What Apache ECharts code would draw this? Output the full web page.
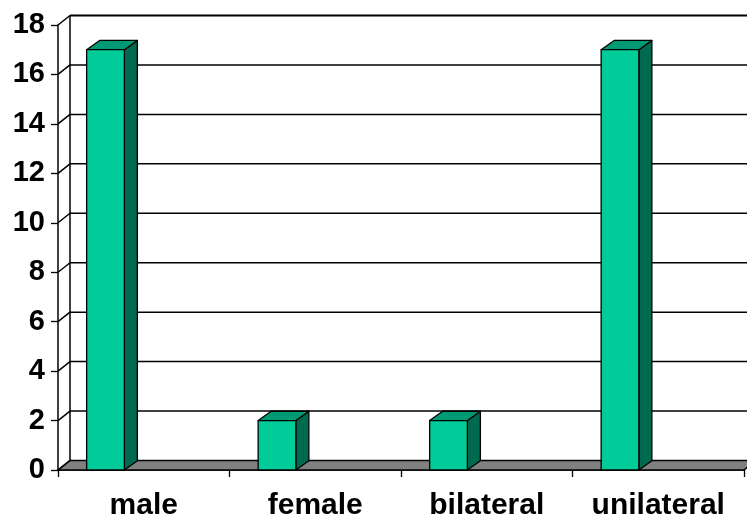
<!DOCTYPE html>
<html>
<head>
<meta charset="utf-8">
<script src="https://cdn.jsdelivr.net/npm/echarts@6/dist/echarts.min.js"></script>
<style>
  html, body { margin: 0; padding: 0; background: #fff; }
  #chart { width: 747px; height: 522px; }
</style>
</head>
<body>
<div id="chart"></div>
<script>
// Chart data
var categories = ['male', 'female', 'bilateral', 'unilateral'];
var counts = [17, 2, 2, 17];
var yTicks = [0, 2, 4, 6, 8, 10, 12, 14, 16, 18];

// Pseudo-3D depth offsets (pixels)
var WALL_DX = 12, WALL_DY = -9.5;
var BAR_DX = 13, BAR_DY = -9.3;

var FONT = '"Liberation Sans", Arial, sans-serif';

var chart = echarts.init(document.getElementById('chart'), null, { renderer: 'canvas' });

// Back wall gridlines, left wall connectors and the grey floor
function renderWall(params, api) {
  var cs = params.coordSys;
  var v = api.value(1);
  var p = api.coord([0, v]);
  var yf = p[1];
  var xf = cs.x;
  var xb = xf + WALL_DX, yb = yf + WALL_DY;
  var xr = cs.x + cs.width + WALL_DX;
  var children = [];
  var lineStyle = { stroke: '#000', lineWidth: 1.5 };
  if (params.dataIndex === 0) {
    var y0 = yf;
    var yTop = api.coord([0, yTicks[yTicks.length - 1]])[1] + WALL_DY;
    children.push({
      type: 'polygon',
      shape: { points: [[xf, y0], [cs.x + cs.width, y0], [xr, y0 + WALL_DY], [xb, y0 + WALL_DY]] },
      style: { fill: '#808080', stroke: '#000', lineWidth: 1.5 }
    });
    children.push({
      type: 'line',
      shape: { x1: xb, y1: y0 + WALL_DY, x2: xb, y2: yTop },
      style: lineStyle
    });
  } else {
    children.push({
      type: 'line',
      shape: { x1: xb, y1: yb, x2: xr, y2: yb },
      style: { stroke: '#000', lineWidth: v === yTicks[yTicks.length - 1] ? 2 : 1.5 }
    });
  }
  children.push({
    type: 'line',
    shape: { x1: xf, y1: yf, x2: xb, y2: yb },
    style: lineStyle
  });
  return { type: 'group', children: children };
}

// Columns with front, top and side faces
function renderBar(params, api) {
  var idx = api.value(0);
  var top = api.coord([idx, api.value(1)]);
  var base = api.coord([idx, 0]);
  var bw = api.size([1, 0])[0];
  var left = top[0] - bw / 2 + 0.167 * bw;
  var w = 0.22 * bw;
  var yt = top[1], yb = base[1];
  var edge = { stroke: '#000', lineWidth: 1.3, lineJoin: 'round' };
  return {
    type: 'group',
    children: [
      {
        type: 'polygon',
        shape: { points: [[left + w, yt], [left + w + BAR_DX, yt + BAR_DY], [left + w + BAR_DX, yb + BAR_DY], [left + w, yb]] },
        style: Object.assign({ fill: '#006A50' }, edge)
      },
      {
        type: 'polygon',
        shape: { points: [[left, yt], [left + w, yt], [left + w + BAR_DX, yt + BAR_DY], [left + BAR_DX, yt + BAR_DY]] },
        style: Object.assign({ fill: '#009B75' }, edge)
      },
      {
        type: 'rect',
        shape: { x: left, y: yt, width: w, height: yb - yt },
        style: Object.assign({ fill: '#00CC99' }, edge)
      }
    ]
  };
}

chart.setOption({
  animation: false,
  backgroundColor: '#ffffff',
  grid: { left: 58, right: 3, top: 25, bottom: 52, containLabel: false },
  xAxis: {
    type: 'category',
    data: categories,
    boundaryGap: true,
    axisLine: { show: true, lineStyle: { color: '#000', width: 1.5 } },
    axisTick: { show: true, length: 7, interval: 0, lineStyle: { color: '#000', width: 1.3 } },
    axisLabel: {
      interval: 0, margin: 21, color: '#000',
      fontFamily: FONT, fontWeight: 'bold', fontSize: 30
    },
    splitLine: { show: false }
  },
  yAxis: {
    type: 'value',
    min: 0, max: 18, interval: 2,
    axisLine: { show: true, lineStyle: { color: '#000', width: 1.5 } },
    axisTick: { show: true, length: 7, lineStyle: { color: '#000', width: 1.3 } },
    axisLabel: {
      margin: 13, color: '#000',
      fontFamily: FONT, fontWeight: 'bold', fontSize: 29
    },
    splitLine: { show: false }
  },
  series: [
    {
      type: 'custom',
      name: 'wall',
      clip: false,
      silent: true,
      z: 1,
      renderItem: renderWall,
      data: yTicks.map(function (v) { return [0, v]; })
    },
    {
      type: 'custom',
      name: 'count',
      clip: false,
      z: 3,
      renderItem: renderBar,
      data: counts.map(function (v, i) { return [i, v]; })
    }
  ]
});
</script>
</body>
</html>
